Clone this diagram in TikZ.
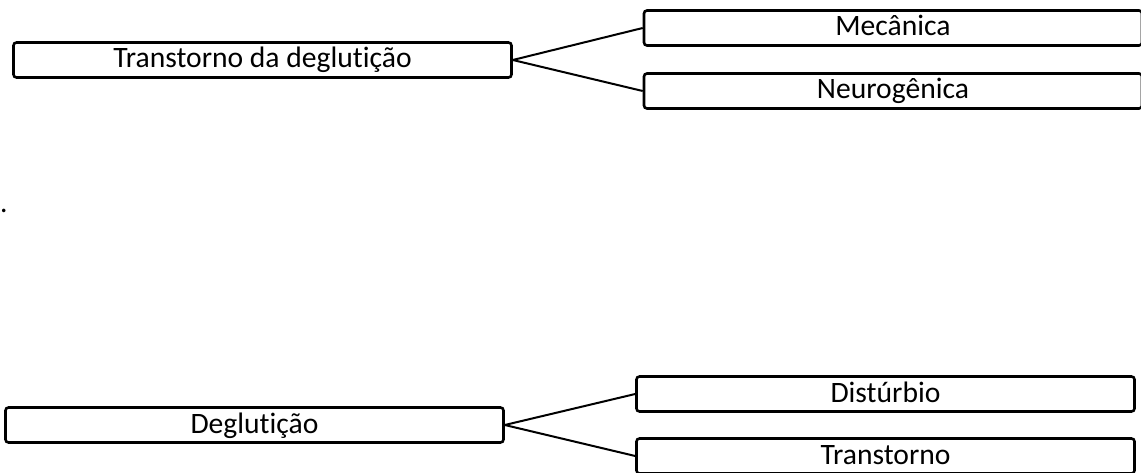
\documentclass[tikz,border=0pt]{standalone}
\usepackage{fontspec}
\setmainfont[Ligatures=NoCommon]{Carlito}
% keep "t" and "i" as separate glyphs
\newcommand{\tsep}{t\kern0pt }
\begin{document}
\begin{tikzpicture}[x=1pt,y=-1pt,
  termbox/.style={draw=black, line width=2.6pt, rounded corners=3pt, fill=white,
    minimum width=498pt, minimum height=35pt, inner sep=0pt,
    text height=21pt, text depth=5pt, font=\fontsize{29.6}{31}\selectfont},
  link/.style={draw=black, line width=2pt}]
\useasboundingbox (0,0) rectangle (1141,473);

% first tree: Transtorno da deglutição
\node[termbox] (td) at (262.5,60) {Transtorno da deglu\tsep ição};
\node[termbox] (mec) at (893,28) {Mecânica};
\node[termbox] (neu) at (893,91) {Neurogênica};
\draw[link] (td.east) -- (mec.west);
\draw[link] (td.east) -- (neu.west);

% stray period
\node[anchor=base west, inner sep=0pt, font=\fontsize{29.6}{31}\selectfont] (dot) at (0,213) {.};

% second tree: Deglutição
\node[termbox] (deg) at (254.5,425) {Deglu\tsep ição};
\node[termbox] (dis) at (885.5,394) {Distúrbio};
\node[termbox] (tra) at (885.5,456) {Transtorno};
\draw[link] (deg.east) -- (dis.west);
\draw[link] (deg.east) -- (tra.west);
\end{tikzpicture}
\end{document}
